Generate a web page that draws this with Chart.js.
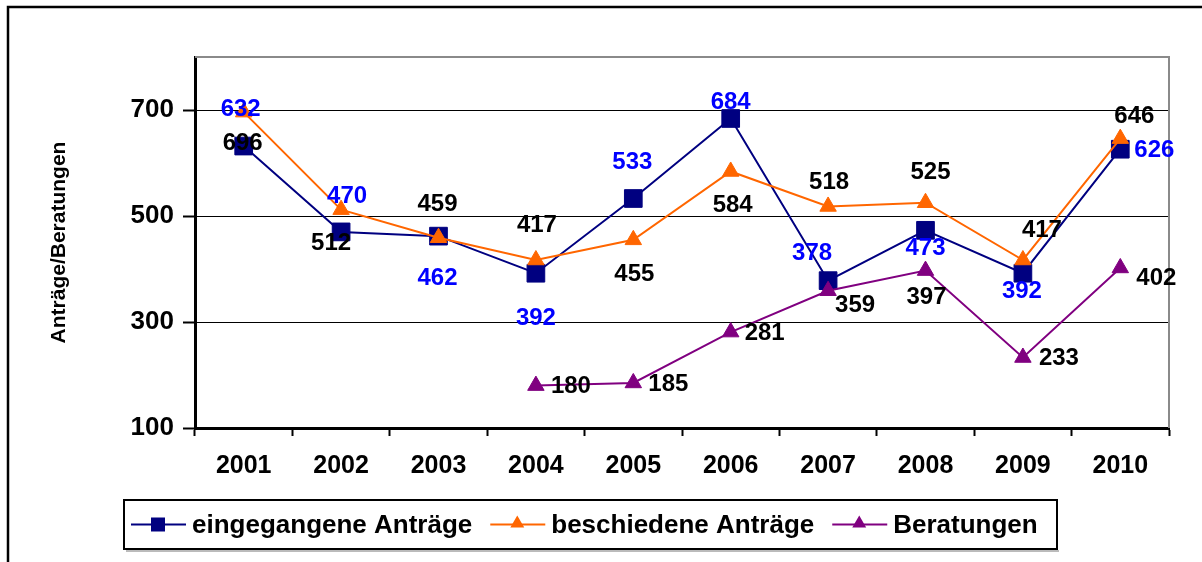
<!DOCTYPE html>
<html>
<head>
<meta charset="utf-8">
<script src="https://cdn.jsdelivr.net/npm/chart.js@4/dist/chart.umd.min.js"></script>
<style>
  html, body { margin: 0; padding: 0; background: #fff; }
  canvas { display: block; }
</style>
</head>
<body>
<canvas id="chart" width="1202" height="562"></canvas>
<script>
const years = ['2001', '2002', '2003', '2004', '2005', '2006', '2007', '2008', '2009', '2010'];
const eingegangene = [632, 470, 462, 392, 533, 684, 378, 473, 392, 626];
const beschiedene = [696, 512, 459, 417, 455, 584, 518, 525, 417, 646];
const beratungen = [null, null, null, 180, 185, 281, 359, 397, 233, 402];
const yTicks = [100, 300, 500, 700];
const seriesNames = ['eingegangene Anträge', 'beschiedene Anträge', 'Beratungen'];
const yTitle = 'Anträge/Beratungen';

const FONT = "'Liberation Sans', Arial, Helvetica, sans-serif";
Chart.defaults.font.family = FONT;

// label placement next to each point (dx, dy in px), like in the original sheet
const labelOffsets = [
  [[-3, -38], [6, -37], [-1, 41], [0, 44], [-1, -37], [0, -17], [-16, -28], [0, 17], [-1, 17], [34, 0]],
  [[-1, 30], [-10, 33], [-1, -34], [1, -36], [1, 34], [2, 33], [1, -25], [5, -31], [19, -31], [14, -23]],
  [null, null, null, [35, 0], [35, 0], [34, 0], [27, 14], [1, 26], [36, 0], [36, 9]]
];

const valueLabels = {
  id: 'valueLabels',
  afterDatasetsDraw(chart, args, opts) {
    const ctx = chart.ctx;
    ctx.save();
    ctx.font = opts.font;
    ctx.textAlign = 'center';
    ctx.textBaseline = 'middle';
    chart.data.datasets.forEach((ds, i) => {
      const meta = chart.getDatasetMeta(i);
      ctx.fillStyle = opts.colors[i];
      meta.data.forEach((pt, j) => {
        const v = ds.data[j];
        if (v == null) return;
        const off = opts.offsets[i][j] || [0, 0];
        ctx.fillText(String(v), pt.x + off[0], pt.y + off[1] + 1);
      });
    });
    ctx.restore();
  }
};

function marker(ctx, style, x, y, r, color) {
  ctx.fillStyle = color;
  ctx.beginPath();
  if (style === 'rect') {
    ctx.rect(x - r, y - r, 2 * r, 2 * r);
  } else {
    ctx.moveTo(x, y - r);
    ctx.lineTo(x + r * 0.87, y + r * 0.5);
    ctx.lineTo(x - r * 0.87, y + r * 0.5);
    ctx.closePath();
  }
  ctx.fill();
}

const frame = {
  id: 'frame',
  beforeDatasetsDraw(chart) {
    const {ctx, chartArea: a} = chart;
    ctx.save();
    ctx.strokeStyle = '#8a8a8a';
    ctx.lineWidth = 2;
    ctx.beginPath();
    ctx.moveTo(a.left, a.top);
    ctx.lineTo(a.right, a.top);
    ctx.lineTo(a.right, a.bottom);
    ctx.stroke();
    ctx.restore();
  },
  afterDraw(chart, args, opts) {
    const ctx = chart.ctx;
    ctx.save();
    // outer border
    ctx.strokeStyle = '#000';
    ctx.lineWidth = 2.5;
    ctx.beginPath();
    ctx.moveTo(8, 562);
    ctx.lineTo(8, 7);
    ctx.lineTo(1202, 7);
    ctx.stroke();

    // legend box
    const L = opts.legend;
    ctx.fillStyle = '#bbb';
    ctx.fillRect(L.left + 2, L.top + L.height + 1, L.width, 2);
    ctx.lineWidth = 2;
    ctx.strokeStyle = '#000';
    ctx.strokeRect(L.left, L.top, L.width, L.height);

    ctx.font = L.font;
    ctx.textBaseline = 'middle';
    ctx.textAlign = 'left';
    const y = L.top + L.height / 2;
    let x = L.left + 7;
    chart.data.datasets.forEach(ds => {
      ctx.strokeStyle = ds.borderColor;
      ctx.lineWidth = 2;
      ctx.beginPath();
      ctx.moveTo(x, y);
      ctx.lineTo(x + 55, y);
      ctx.stroke();
      if (ds.pointStyle === 'rect') marker(ctx, 'rect', x + 27, y, 7, ds.borderColor);
      else marker(ctx, 'triangle', x + 27, y - 1, 8, ds.borderColor);
      ctx.fillStyle = '#000';
      ctx.fillText(ds.label, x + 61, y + 1);
      x += 61 + ctx.measureText(ds.label).width + 18;
    });
    ctx.restore();
  }
};

const ctx = document.getElementById('chart').getContext('2d');
new Chart(ctx, {
  type: 'line',
  data: {
    labels: years,
    datasets: [
      {
        label: seriesNames[0],
        data: eingegangene,
        borderColor: '#000080',
        backgroundColor: '#000080',
        borderWidth: 2,
        pointStyle: 'rect',
        pointRadius: 12.5,
        pointBorderWidth: 1,
        order: 3
      },
      {
        label: seriesNames[1],
        data: beschiedene,
        borderColor: '#FF6600',
        backgroundColor: '#FF6600',
        borderWidth: 2,
        pointStyle: 'triangle',
        pointRadius: 9.5,
        pointBorderWidth: 1,
        order: 2
      },
      {
        label: seriesNames[2],
        data: beratungen,
        borderColor: '#800080',
        backgroundColor: '#800080',
        borderWidth: 2,
        pointStyle: 'triangle',
        pointRadius: 9.5,
        pointBorderWidth: 1,
        order: 1
      }
    ]
  },
  options: {
    responsive: false,
    animation: false,
    events: [],
    layout: { padding: { left: 0, top: 57, right: 33, bottom: 84 } },
    elements: { line: { tension: 0 } },
    scales: {
      x: {
        offset: true,
        afterFit: s => { s.height = 50; },
        grid: { offset: true, drawOnChartArea: false, tickLength: 8, tickColor: '#000', tickWidth: 2 },
        border: { color: '#000', width: 3 },
        ticks: { font: { size: 25, weight: 'bold' }, color: '#000', padding: 15, maxRotation: 0 }
      },
      y: {
        min: 100,
        max: 800,
        afterBuildTicks: s => { s.ticks = yTicks.map(v => ({ value: v })); },
        afterFit: s => { s.width = 195; },
        grid: { color: '#000', lineWidth: 1, tickLength: 12, tickColor: '#000', tickWidth: 2 },
        border: { color: '#000', width: 3 },
        ticks: { font: { size: 26, weight: 'bold' }, color: '#000', padding: 9 },
        title: {
          display: true,
          text: yTitle,
          color: '#000',
          font: { size: 21, weight: 'bold' },
          padding: { top: 47, bottom: 0 }
        }
      }
    },
    plugins: {
      legend: { display: false },
      tooltip: { enabled: false },
      valueLabels: {
        font: 'bold 24px ' + FONT,
        colors: ['#0000FF', '#000', '#000'],
        offsets: labelOffsets
      },
      frame: {
        legend: { left: 124, top: 500, width: 933, height: 49, font: 'bold 26px ' + FONT }
      }
    }
  },
  plugins: [valueLabels, frame]
});
</script>
</body>
</html>
